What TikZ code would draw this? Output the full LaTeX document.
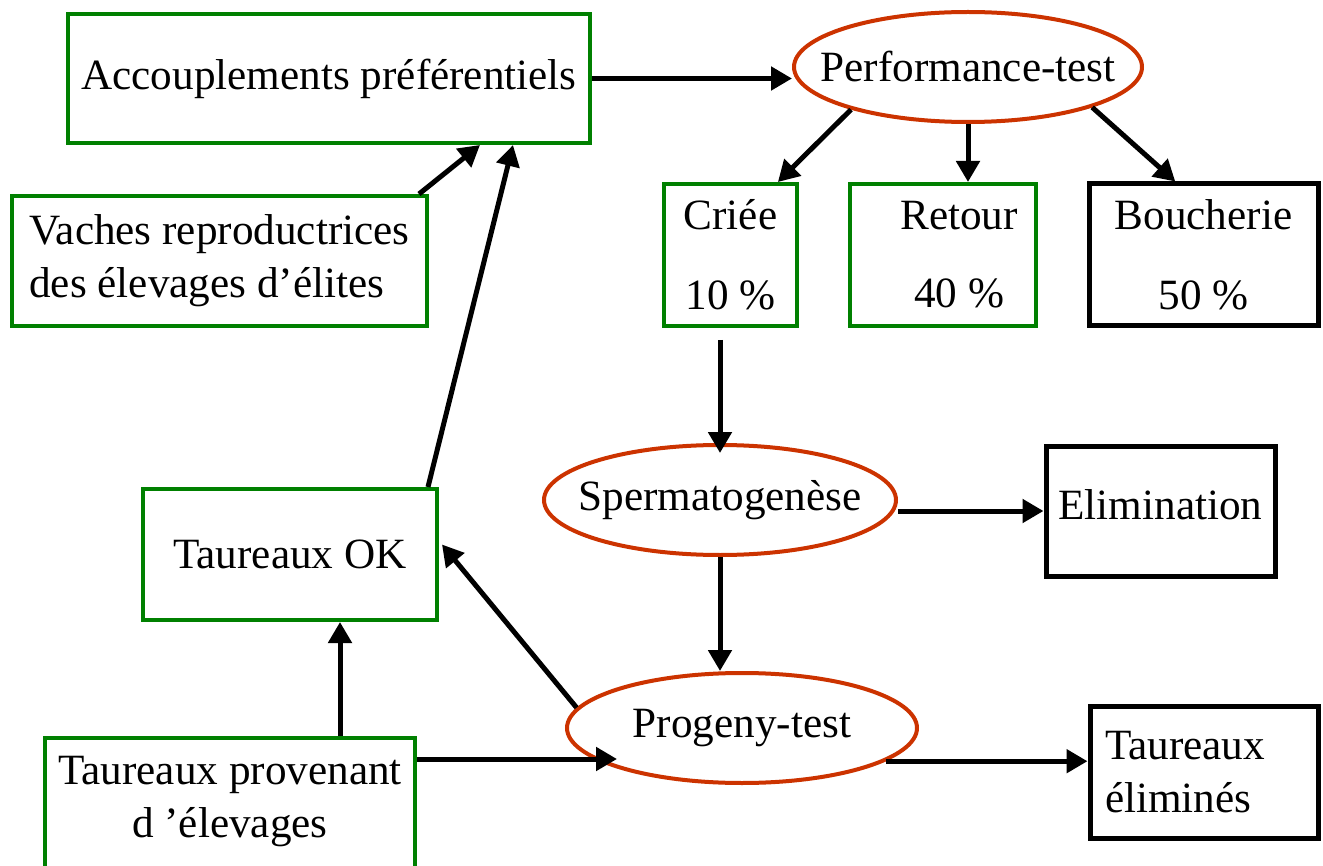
\documentclass[tikz,border=0pt]{standalone}
\usepackage{fontspec}
\setmainfont{Liberation Serif}
\usepackage{tikz}
\usetikzlibrary{arrows.meta,calc,shapes}
\tikzset{
  boxnode/.style = {align=center, inner sep=0pt, rectangle, fill=white, text=black,
  font=\fontsize{21.6}{26.5}\selectfont},
  box_v/.style = {boxnode, draw=my_green, line width=2pt},
  box_n/.style = {boxnode, draw=black, line width=2.5pt},
  oval/.style = {boxnode, ellipse, draw=my_red, line width=2pt}
}
\definecolor{my_green}{RGB}{0, 128, 0}
\definecolor{my_red}{RGB}{204, 51, 0}

\begin{document}
\begin{tikzpicture}[x=0.5pt, y=-0.5pt, ->, >={Triangle[length=10.5pt,width=11.5pt]},
        line width=2.5pt]
        \useasboundingbox (0,0) rectangle (1323,866);
        \clip (0,0) rectangle (1323,866);
        \node [box_v, minimum width=261pt, minimum height=64.5pt] (acc) at (329,78.5) {Accouplements préférentiels};
        \node [box_v, minimum width=207.5pt, minimum height=65pt, align=left] (vaches) at (219.5,261) {Vaches reproductrices\\des élevages d’élites};
        \node [oval, minimum width=174pt, minimum height=55pt] (perf) at (968,67) {\makebox[0pt]{Performance-test}};
        \node [box_v, minimum width=66.5pt, minimum height=71pt] (criee) at (730.5,255) {Criée\\[13.5pt]10 \%};
        \node [box_v, minimum width=93pt, minimum height=71pt] (retour) at (943,255) {\hspace*{16pt}Retour\\[12.5pt]\hspace*{16pt}40 \%};
        \node [box_n, minimum width=114.5pt, minimum height=71pt] (bouch) at (1203.5,255) {Boucherie\\[13.5pt]50 \%};
        \node [oval, minimum width=176pt, minimum height=55pt] (sperm) at (720,500) {\makebox[0pt]{Spermatogenèse}};
        \node [box_n, minimum width=114.5pt, minimum height=65pt, text depth=6pt] (elim) at (1160.5,511) {Elimination};
        \node [box_v, minimum width=147pt, minimum height=65.5pt] (tok) at (290,554.5) {Taureaux OK};
        \node [oval, minimum width=175pt, minimum height=55pt] (prog) at (742,728) {\makebox[0pt]{Progeny-test}};
        \node [box_n, minimum width=114pt, minimum height=66pt, text width=99pt, align=left] (telim) at (1204,772) {Taureaux\\éliminés};
        \node [box_v, minimum width=185pt, minimum height=71pt, text depth=12pt] (tprov) at (230,809) {Taureaux provenant\\d ’élevages};
        \draw (acc.east) -- (acc.east -| perf.west);
        \draw ($(vaches.north east)+(-10,0)$) -- ($(acc.south)+(151,0)$);
        \draw ($(tok.north east)+(-11,0)$) -- ($(acc.south)+(184,0)$);
        \draw (perf.200) -- (criee.57);
        \draw (perf.south) -- (perf.south |- retour.north);
        \draw (perf.342) -- (bouch.111);
        \draw ($(criee.south)+(-10.5,12)$) -- ($(sperm.north)+(0,10)$);
        \draw (sperm.east |- elim.west) -- (elim.west);
        \draw (sperm.south) -- (sperm.south |- prog.north);
        \draw (prog.173) -- ($(tok.east)+(3,-10)$);
        \draw ($(tprov.north)+(110,0)$) -- ($(tok.south)+(50,0)$);
        \draw ($(tprov.north east)+(0,23)$) coordinate (tp) -- ($(tp -| prog.west)+(52,0)$);
        \draw (prog.-13) -- (prog.-13 -| telim.west);
\end{tikzpicture}
\end{document}
